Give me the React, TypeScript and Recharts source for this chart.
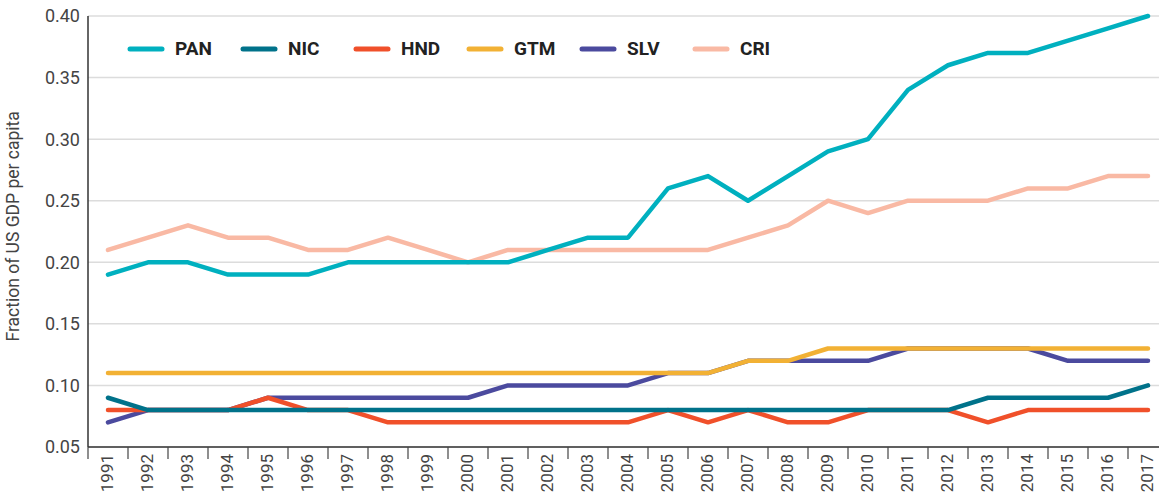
import React from 'react'
import { LineChart, Line, XAxis, YAxis, CartesianGrid, Legend } from 'recharts'

// ---------------------------------------------------------------------------
// Data (fraction of US GDP per capita)
// ---------------------------------------------------------------------------

const years = [
  '1991', '1992', '1993', '1994', '1995', '1996', '1997', '1998', '1999',
  '2000', '2001', '2002', '2003', '2004', '2005', '2006', '2007', '2008',
  '2009', '2010', '2011', '2012', '2013', '2014', '2015', '2016', '2017',
]

const pan = [
  0.19, 0.2, 0.2, 0.19, 0.19, 0.19, 0.2, 0.2, 0.2, 0.2, 0.2, 0.21, 0.22, 0.22,
  0.26, 0.27, 0.25, 0.27, 0.29, 0.3, 0.34, 0.36, 0.37, 0.37, 0.38, 0.39, 0.4,
]
const nic = [
  0.09, 0.08, 0.08, 0.08, 0.08, 0.08, 0.08, 0.08, 0.08, 0.08, 0.08, 0.08, 0.08, 0.08,
  0.08, 0.08, 0.08, 0.08, 0.08, 0.08, 0.08, 0.08, 0.09, 0.09, 0.09, 0.09, 0.1,
]
const hnd = [
  0.08, 0.08, 0.08, 0.08, 0.09, 0.08, 0.08, 0.07, 0.07, 0.07, 0.07, 0.07, 0.07, 0.07,
  0.08, 0.07, 0.08, 0.07, 0.07, 0.08, 0.08, 0.08, 0.07, 0.08, 0.08, 0.08, 0.08,
]
const gtm = [
  0.11, 0.11, 0.11, 0.11, 0.11, 0.11, 0.11, 0.11, 0.11, 0.11, 0.11, 0.11, 0.11, 0.11,
  0.11, 0.11, 0.12, 0.12, 0.13, 0.13, 0.13, 0.13, 0.13, 0.13, 0.13, 0.13, 0.13,
]
const slv = [
  0.07, 0.08, 0.08, 0.08, 0.09, 0.09, 0.09, 0.09, 0.09, 0.09, 0.1, 0.1, 0.1, 0.1,
  0.11, 0.11, 0.12, 0.12, 0.12, 0.12, 0.13, 0.13, 0.13, 0.13, 0.12, 0.12, 0.12,
]
const cri = [
  0.21, 0.22, 0.23, 0.22, 0.22, 0.21, 0.21, 0.22, 0.21, 0.2, 0.21, 0.21, 0.21, 0.21,
  0.21, 0.21, 0.22, 0.23, 0.25, 0.24, 0.25, 0.25, 0.25, 0.26, 0.26, 0.27, 0.27,
]

const yTicks = [0.05, 0.1, 0.15, 0.2, 0.25, 0.3, 0.35, 0.4]

// legend order as shown in the picture
const legendKeys = ['PAN', 'NIC', 'HND', 'GTM', 'SLV', 'CRI']
// drawing order (last on top)
const drawKeys = ['CRI', 'SLV', 'GTM', 'HND', 'NIC', 'PAN']

const seriesColors: Record<string, string> = {
  PAN: '#00b0bf',
  NIC: '#00728a',
  HND: '#f0502a',
  GTM: '#f2b134',
  SLV: '#4b4a9e',
  CRI: '#f9b9a4',
}

const data = years.map((year, i) => ({
  year,
  PAN: pan[i],
  NIC: nic[i],
  HND: hnd[i],
  GTM: gtm[i],
  SLV: slv[i],
  CRI: cri[i],
}))

// ---------------------------------------------------------------------------
// Pieces
// ---------------------------------------------------------------------------

const FONT = 'Roboto, "Noto Sans", sans-serif'
const BAND = 40

function YearTick(props: any) {
  const { x, y, payload } = props
  return (
    <g>
      <line x1={x - BAND / 2} y1={y} x2={x - BAND / 2} y2={y + 12} stroke="#444" strokeWidth={1.2} />
      <text
        x={x}
        y={y + 7}
        transform={`rotate(-90 ${x} ${y + 7})`}
        textAnchor="end"
        dy="0.3em"
        fill="#444"
        fontSize={17}
        fontFamily={FONT}
      >
        {payload.value}
      </text>
    </g>
  )
}

function ChartLegend() {
  return (
    <div style={{ display: 'flex', fontFamily: FONT }}>
      {legendKeys.map((k) => (
        <div key={k} style={{ width: 113, display: 'flex', alignItems: 'center' }}>
          <svg width={40} height={8} style={{ marginLeft: -2 }}>
            <line x1={4} y1={4} x2={36} y2={4} stroke={seriesColors[k]} strokeWidth={5} strokeLinecap="round" />
          </svg>
          <span style={{ marginLeft: 9, fontSize: 19, fontWeight: 700, color: '#222' }}>{k}</span>
        </div>
      ))}
    </div>
  )
}

export default function App() {
  return (
    <div
      style={{
        position: 'absolute',
        top: 0,
        left: 0,
        width: 1159,
        height: 492,
        overflow: 'hidden',
        background: '#fff',
      }}
    >
      <LineChart width={1170} height={492} data={data} margin={{ top: 16, right: 2, left: 0, bottom: 0 }}>
        <CartesianGrid vertical={false} stroke="#dcdcdc" strokeWidth={1.5} />
        <XAxis
          dataKey="year"
          interval={0}
          padding={{ left: BAND / 2, right: BAND / 2 }}
          tickLine={false}
          tickSize={0}
          tickMargin={0}
          axisLine={{ stroke: '#333', strokeWidth: 1.5 }}
          tick={<YearTick />}
          height={45}
        />
        <YAxis
          type="number"
          domain={[0.05, 0.4]}
          ticks={yTicks}
          width={88}
          tickLine={false}
          axisLine={{ stroke: '#333', strokeWidth: 1.5 }}
          tickMargin={2}
          tickFormatter={(v: number) => v.toFixed(2)}
          tick={{ fill: '#444', fontSize: 18, fontFamily: FONT }}
          label={{
            value: 'Fraction of US GDP per capita',
            angle: -90,
            position: 'insideLeft',
            dx: 8,
            dy: 110,
            style: { fill: '#444', fontSize: 17.5, fontFamily: FONT },
          }}
        />
        <Legend
          layout="horizontal"
          verticalAlign="middle"
          align="center"
          wrapperStyle={{ top: 37, left: 128, width: 'auto' }}
          content={<ChartLegend />}
        />
        {drawKeys.map((k) => (
          <Line
            key={k}
            type="linear"
            dataKey={k}
            stroke={seriesColors[k]}
            strokeWidth={4.5}
            strokeLinecap="round"
            strokeLinejoin="round"
            dot={false}
            activeDot={false}
            legendType="none"
            isAnimationActive={false}
          />
        ))}
      </LineChart>
    </div>
  )
}
